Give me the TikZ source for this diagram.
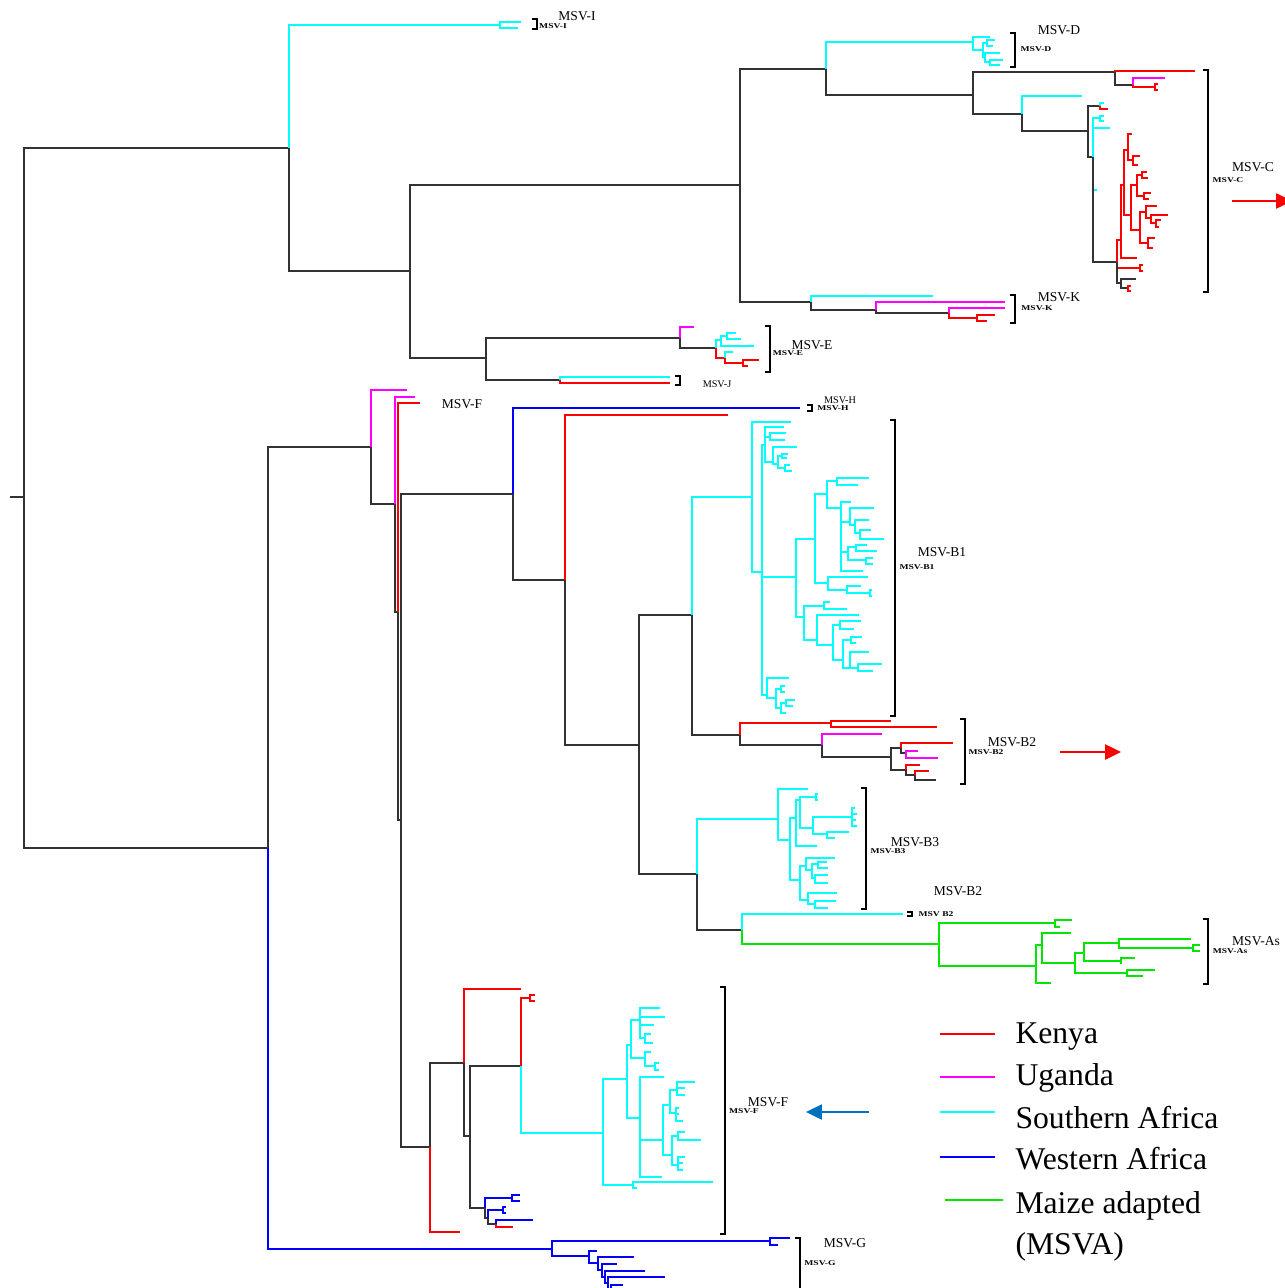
\documentclass[tikz,border=0pt]{standalone}
\usepackage{fontspec}
\setmainfont{Liberation Serif}
\usetikzlibrary{arrows.meta}
\definecolor{ke}{RGB}{255,0,0}
\definecolor{ug}{RGB}{255,0,255}
\definecolor{sa}{RGB}{0,255,255}
\definecolor{wa}{RGB}{0,0,255}
\definecolor{mz}{RGB}{0,230,0}
\definecolor{bk}{RGB}{50,50,50}
\definecolor{pointblue}{RGB}{0,112,192}

\begin{document}
\begin{tikzpicture}[
  x=0.2mm, y=-0.2mm, line width=0.6pt,
  brk/.style={draw=black, line width=0.9pt},
  clade/.style={font=\fontsize{7.7}{8}\selectfont, inner sep=0pt},
  smallclade/.style={font=\fontsize{5.8}{6}\selectfont, inner sep=0pt},
  tag/.style={font=\fontsize{4.2}{5}\selectfont\bfseries, inner sep=0pt, xscale=1.3},
  legtext/.style={font=\fontsize{18}{20}\selectfont, anchor=base west, inner sep=0pt},
  pointer/.style={line width=1.2pt, -{Triangle[length=9pt,width=8.5pt]}}
]
\useasboundingbox (0,0) rectangle (1284,1288);

% root
\coordinate (r0) at (10,497);
\coordinate (root) at (24,497);
\draw[bk] (r0) -- (root);

% upper half: MSV-I, D, C, K, E, J
\foreach \p/\c/\x/\y/\s in {
  root/top/289/148/bk, root/bot/268/848/bk,
  top/i0/500/25/sa, i0/i1/521/22/sa, i0/i2/518/28/sa,
  top/t1/410/271/bk, t1/t2/740/185/bk, t1/e0/486/358/bk,
  t2/t3/826/69/bk, t2/k0/811/302/bk,
  t3/d0/973/42/sa, d0/d1/990/37/sa, d0/d2/983/50/sa, d2/d3/987/43/sa,
  d3/d4/995/40/sa, d3/d5/993/46/sa, d2/d6/985/57/sa, d6/d7/1000/53/sa,
  d6/d8/990/62/sa, d8/d9/1003/60/sa, d8/d10/1000/65/sa,
  t3/t4/973/95/bk,
  t4/c0/1115/72/bk, c0/c1/1195/71/ke, c0/c2/1133/85/bk, c2/c3/1165/78/ug,
  c2/c4/1155/87/ke, c4/c5/1158/84/ke, c4/c6/1158/90/ke,
  t4/c7/1022/114/bk, c7/c8/1082/96/sa, c7/c9/1088/131/bk,
  c9/c10/1100/106/bk, c10/c11/1104/103/sa, c10/c12/1108/109/ke,
  c9/c13/1093/157/bk, c13/c14/1100/118/sa, c14/c15/1104/116/sa,
  c14/c16/1104/121/sa, c13/c17/1110/128/sa, c13/c19/1097/190/sa,
  c13/c18/1117/262/bk,
  c18/r1/1121/240/ke, c18/r2/1140/268/ke, r2/r2a/1143/265/ke, r2/r2b/1143/271/ke,
  c18/c22/1121/283/bk, c22/c23/1136/279/bk, c22/c24/1128/288/bk,
  c24/c25/1131/286/ke, c24/c26/1131/291/ke,
  r1/r3/1124/185/ke, r1/r4/1137/258/ke,
  r3/r5/1128/150/ke, r3/r6/1131/215/ke,
  r5/r7/1132/134/ke, r5/r8/1133/160/ke, r8/r8a/1140/156/ke, r8/r8b/1138/165/ke,
  r6/r9/1137/185/ke, r6/r10/1140/230/ke,
  r9/r12/1142/175/ke, r12/r12a/1147/172/ke, r12/r12b/1148/178/ke,
  r9/r13/1144/196/ke, r13/r13a/1151/193/ke, r13/r13b/1149/199/ke,
  r10/r14/1146/212/ke, r14/r14a/1157/206/ke, r14/r16/1151/218/ke,
  r16/r16a/1168/215/ke, r16/r17/1156/223/ke, r17/r17a/1161/220/ke, r17/r17b/1159/227/ke,
  r10/r15/1148/243/ke, r15/r15a/1155/238/ke, r15/r15b/1153/248/ke,
  k0/k1/933/296/sa, k0/k2/876/310/bk, k2/k3/1005/302/ug, k2/k4/949/313/bk,
  k4/k5/1005/308/ug, k4/k6/977/318/ke, k6/k7/995/315/ke, k6/k8/987/321/ke,
  e0/e1/680/338/bk, e1/e2/694/327/ug, e1/e3/716/348/bk,
  e3/e4/721/340/sa, e4/e6/727/336/sa, e6/e6a/736/333/sa, e6/e6b/741/339/sa, e4/e7/754/346/sa,
  e3/e5/725/358/ke, e5/e8/733/352/sa, e5/e9/743/363/ke, e9/e9a/759/360/ke, e9/e9b/748/366/ke,
  e0/j0/560/380/bk, j0/j1/670/377/sa, j0/j2/670/383/ke}
{
  \coordinate (\c) at (\x,\y);
  \draw[draw=\s] (\p) |- (\c);
}

% lower half: MSV-F, H, B1, B2, B3, As, G
\foreach \p/\c/\x/\y/\s in {
  bot/f0/371/447/bk, f0/f0a/407/390/ug, f0/f1/395/504/bk, f1/f1a/415/397/ug,
  f1/f2/398/612/bk, f2/f2a/420/403/ke, f2/f3/401/820/bk,
  f3/bb/513/494/bk, f3/ff/430/1147/bk, bot/g0/552/1249/wa,
  bb/h1/800/408/wa, bb/b2/565/580/bk, b2/b2a/728/415/ke, b2/b3/639/745/bk,
  b3/b4/692/615/bk, b4/b1/752/497/sa, b4/bq/740/735/bk, b3/b5/697/874/bk,
  bq/bq1/831/723/ke, bq1/bq2/891/721/ke, bq1/bq3/937/727/ke,
  bq/bq4/822/745/bk, bq4/bq5/882/734/ug, bq4/bq6/891/757/bk,
  bq6/bq7/901/748/bk, bq7/bq8/953/743/ke, bq7/bq9/906/753/bk,
  bq9/bq10/918/751/ug, bq9/bq11/938/758/ug,
  bq6/bq12/906/770/bk, bq12/bq13/920/765/ke, bq12/bq14/915/775/bk,
  bq14/bq15/929/771/ke, bq14/bq16/936/780/bk,
  b5/b6/778/819/sa, b5/as0/742/930/bk,
  as0/as1/903/914/sa, as0/as2/939/944/mz, as2/as3/1055/923/mz,
  as3/as4/1072/920/mz, as3/as5/1060/927/mz, as2/as6/1036/966/mz,
  as6/as7/1042/945/mz, as7/as8/1071/933/mz, as7/as9/1075/963/mz,
  as9/as10/1084/953/mz, as10/as11/1119/943/mz, as11/as12/1191/939/mz,
  as11/as13/1193/948/mz, as13/as14/1200/945/mz, as13/as15/1200/951/mz,
  as10/as16/1121/961/mz, as16/as17/1135/958/mz, as16/as18/1121/964/mz,
  as9/as19/1127/973/mz, as19/as20/1155/970/mz, as19/as21/1143/976/mz,
  as6/as22/1051/983/mz,
  ff/ff1/460/1232/ke, ff/fg/464/1063/bk, fg/fg1/521/989/ke, fg/fh/470/1136/bk,
  fh/fi/521/1066/bk, fi/fk/530/998/ke, fk/fk1/535/995/ke, fk/fk2/535/1001/ke,
  fi/fl/603/1133/sa,
  fh/fj/485/1208/bk, fj/fj1/512/1198/wa, fj1/fj1a/520/1195/wa, fj1/fj1b/520/1201/wa,
  fj/fj3/488/1218/bk, fj3/fj4/503/1210/wa, fj4/fj4a/506/1207/wa, fj4/fj4b/506/1213/wa,
  fj3/fj5/496/1224/bk, fj5/fj5a/533/1220/wa, fj5/fj5b/513/1227/ke,
  g0/g1/770/1241/wa, g1/g1a/790/1238/wa, g1/g1b/778/1245/wa,
  g0/g2/589/1256/wa, g2/g2a/597/1251/wa, g2/g3/598/1263/wa, g3/g3a/634/1257/wa,
  g3/g4/602/1270/wa, g4/g4a/617/1264/wa, g4/g5/605/1277/wa, g5/g5a/645/1271/wa,
  g5/g6/608/1283/wa, g6/g6a/665/1277/wa, g6/g7/611/1290/wa,
  g7/g7a/623/1285/wa, g7/g7b/640/1295/wa}
{
  \coordinate (\c) at (\x,\y);
  \draw[draw=\s] (\p) |- (\c);
}

% southern african clusters (B1, B3, F)
\foreach \p/\c/\x/\y in {
  b1/b1t0/791/422, b1/b1a/762/572,
  b1a/b1b/765/445, b1b/b1b1/784/427, b1b/b1c/770/437, b1c/b1c1/786/433,
  b1c/b1c2/785/440, b1b/b1e/773/462, b1e/b1e1/797/447, b1e/b1f/778/464,
  b1f/b1g/782/456, b1g/b1g1/788/454, b1g/b1g2/787/458, b1f/b1h/785/468,
  b1h/b1h1/790/465, b1h/b1h2/792/471,
  b1a/b1n/796/577, b1n/b1p/815/539, b1p/b1r/827/494, b1r/b1r1/837/481,
  b1r1/b1r1a/869/478, b1r1/b1r1b/858/485,
  b1r/b1r2/841/508, b1r2/b1r2a/851/502, b1r2/b1u/850/522, b1u/b1u1/874/508,
  b1u/b1x/855/525, b1x/b1x1/869/520, b1x/b1y/860/533, b1y/b1y1/871/530, b1y/b1y2/884/539,
  b1r2/b1v/848/552, b1v/b1v1/856/547, b1v1/b1v1a/867/545, b1v1/b1v1b/877/551,
  b1v/b1v2/866/560, b1v2/b1v2a/873/558, b1v2/b1v2b/873/564, b1r2/b1r2b/863/571,
  b1p/b1s/828/583, b1s/b1s1/868/577, b1s/b1s2/847/590, b1s2/b1s2a/861/586,
  b1s2/b1s3/870/593, b1s3/b1s3a/872/590, b1s3/b1s3b/872/596,
  b1n/b1q/804/617, b1q/b1q1/824/606, b1q1/b1q1a/830/602, b1q1/b1q1b/847/609,
  b1q/b1q2/817/640, b1q2/b1q2a/859/615, b1q2/b1q3/833/645, b1q3/b1q4/840/625,
  b1q4/b1q4a/861/621, b1q4/b1q4b/854/629, b1q3/b1q5/843/660, b1q5/b1q6/851/640,
  b1q6/b1q6a/862/637, b1q6/b1q6b/856/643, b1q5/b1q7/850/668, b1q7/b1q7a/869/652,
  b1q7/b1q8/858/668, b1q8/b1q8a/882/664, b1q8/b1q8b/873/671,
  b1a/b1d/767/695, b1d/b1d1/789/678, b1d/b1d2/776/698, b1d2/b1d3/781/689,
  b1d3/b1d3a/785/686, b1d3/b1d3b/785/692, b1d2/b1d4/781/708, b1d4/b1d5/786/703,
  b1d5/b1d5a/795/700, b1d5/b1d5b/793/706, b1d4/b1d4a/786/713,
  b6/b6a/808/789, b6/b7/790/840, b7/b8/796/818, b8/b10/800/800, b10/b11/816/797,
  b11/b11a/818/794, b11/b11b/818/800, b10/b12/813/828, b12/b13/852/817,
  b13/b13a/855/808, b13/b13b/857/814, b13/b13c/856/820, b13/b13d/857/826,
  b12/b14/827/834, b14/b14a/849/832, b14/b14b/835/838, b8/b8a/817/846,
  b7/b9/800/880, b9/b16/806/866, b16/b16a/835/858, b16/b18/812/870,
  b18/b19/818/864, b19/b19a/827/862, b19/b19b/828/868, b18/b20/815/878,
  b20/b20a/828/875, b20/b20b/828/883, b9/b17/808/900, b17/b17a/837/893,
  b17/b21/815/904, b21/b21a/836/901, b21/b21b/828/908,
  fl/fm/627/1079, fl/fn/633/1185, fn/fn1/713/1182, fn/fn2/637/1188,
  fm/fo/631/1045, fo/fq/640/1020, fq/fq1/660/1008, fq/fq2/665/1017,
  fq/fq3/654/1025, fq/fq4/645/1038, fq4/fq4a/651/1034, fq4/fq4b/653/1043,
  fo/fr/645/1058, fr/fr1/651/1052, fr/fr2/655/1066, fr2/fr2a/659/1063, fr2/fr2b/659/1070,
  fm/fp/640/1118, fp/fp0/664/1077, fp/fp1/663/1140, fp/fp9/662/1177,
  fp1/fp3/670/1105, fp3/fp5/677/1090, fp5/fp5a/695/1082, fp5/fp5b/685/1088,
  fp5/fp5c/685/1095, fp3/fp6/676/1113, fp6/fp6a/679/1108, fp6/fp6b/679/1114,
  fp6/fp6c/683/1121, fp1/fp4/672/1155, fp4/fp7/678/1136, fp7/fp7a/685/1132,
  fp7/fp7b/701/1140, fp4/fp8/678/1165, fp8/fp8a/685/1157, fp8/fp8b/683/1163,
  fp8/fp8c/683/1170}
{
  \coordinate (\c) at (\x,\y);
  \draw[draw=sa] (\p) |- (\c);
}

% clade brackets
\foreach \x/\a/\b in {537/19/29, 1015/33/67, 1208/70/292, 1015/295/323,
  770/326/372, 680/376/385, 812/405/411, 895/420/716, 965/719/784,
  866/788/909, 912/912/916, 1208/919/984, 725/987/1234, 800/1238/1300}
  \draw[brk] (\x-5,\a) -| (\x,\b) -- (\x-5,\b);

% clade names
\node[clade] (labI) at (577,16) {MSV-I};
\node[tag] (tagI) at (553,26) {MSV-I};
\node[clade] (labD) at (1059,30) {MSV-D};
\node[tag] (tagD) at (1036,49) {MSV-D};
\node[clade] (labC) at (1253,167) {MSV-C};
\node[tag] (tagC) at (1228,180) {MSV-C};
\node[clade] (labK) at (1059,297) {MSV-K};
\node[tag] (tagK) at (1037,308) {MSV-K};
\node[clade] (labE) at (812,345) {MSV-E};
\node[tag] (tagE) at (788,353) {MSV-E};
\node[smallclade] (labJ) at (717,384) {MSV-J};
\node[clade] (labF1) at (462,404) {MSV-F};
\node[smallclade] (labH) at (840,400) {MSV-H};
\node[tag] (tagH) at (833,408) {MSV-H};
\node[clade] (labB1) at (942,552) {MSV-B1};
\node[tag] (tagB1) at (917,567) {MSV-B1};
\node[clade] (labB2) at (1012,742) {MSV-B2};
\node[tag] (tagB2) at (986,752) {MSV-B2};
\node[clade] (labB3) at (915,842) {MSV-B3};
\node[tag] (tagB3) at (888,851) {MSV-B3};
\node[clade] (labB2b) at (958,891) {MSV-B2};
\node[tag] (tagB2b) at (936,914) {MSV B2};
\node[clade] (labAs) at (1256,941) {MSV-As};
\node[tag] (tagAs) at (1230,951) {MSV-As};
\node[clade] (labF2) at (768,1102) {MSV-F};
\node[tag] (tagF2) at (744,1111) {MSV-F};
\node[clade] (labG) at (845,1243) {MSV-G};
\node[tag] (tagG) at (820,1263) {MSV-G};

% arrows
\coordinate (arC1) at (1232,201);
\coordinate (arC2) at (1292,201);
\draw[pointer, ke] (arC1) -- (arC2);
\coordinate (arB1) at (1060,752);
\coordinate (arB2) at (1121,752);
\draw[pointer, ke] (arB1) -- (arB2);
\coordinate (arF1) at (869,1112);
\coordinate (arF2) at (806,1112);
\draw[pointer, pointblue] (arF1) -- (arF2);

% legend
\node[legtext] (legke) at (1015,1043) {Kenya};
\node[legtext] (legug) at (1015,1085) {Uganda};
\node[legtext] (legsa) at (1015,1128) {Southern Africa};
\node[legtext] (legwa) at (1015,1169) {Western Africa};
\node[legtext] (legmz) at (1015,1213) {Maize adapted};
\node[legtext] (legmz2) at (1015,1254) {(MSVA)};
\coordinate (lke) at (940,1034);
\coordinate (lug) at (940,1077);
\coordinate (lsa) at (940,1112);
\coordinate (lwa) at (940,1157);
\coordinate (lmz) at (945,1200);
\draw[ke, line width=0.9pt, shorten >=4mm] (lke) -- (lke -| legke.west);
\draw[ug, line width=0.9pt, shorten >=4mm] (lug) -- (lug -| legug.west);
\draw[sa, line width=0.9pt, shorten >=4mm] (lsa) -- (lsa -| legsa.west);
\draw[wa, line width=0.9pt, shorten >=4mm] (lwa) -- (lwa -| legwa.west);
\draw[mz, line width=0.9pt, shorten >=2.4mm] (lmz) -- (lmz -| legmz.west);
\end{tikzpicture}
\end{document}
